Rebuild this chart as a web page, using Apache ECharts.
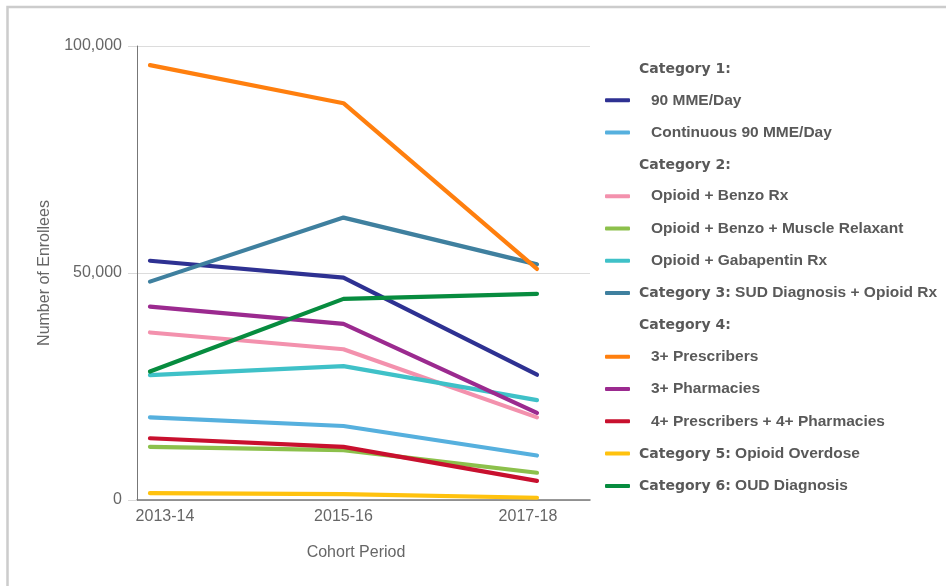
<!DOCTYPE html>
<html>
<head>
<meta charset="utf-8">
<script src="https://cdn.jsdelivr.net/npm/echarts@6/dist/echarts.min.js"></script>
<style>
html,body{margin:0;padding:0;background:#fff;}
#chart{width:946px;height:586px;}
</style>
</head>
<body>
<div id="chart"></div>
<script>
// ---- Data ----
const categories = ['2013-14', '2015-16', '2017-18'];
const yTicks = [0, 50000, 100000];

const mme90 = [52700, 49000, 27600];
const contMme90 = [18200, 16300, 9800];
const opioidBenzo = [36900, 33200, 18200];
const opioidBenzoMuscle = [11700, 11000, 6000];
const opioidGaba = [27500, 29500, 22000];
const sudOpioid = [48100, 62200, 51900];
const prescribers3 = [95800, 87400, 50900];
const pharmacies3 = [42600, 38800, 19200];
const presc4Pharm4 = [13600, 11700, 4200];
const overdose = [1500, 1300, 500];
const oudDiag = [28300, 44300, 45400];

const headerNames = ['Category 1:', 'Category 2:', 'Category 4:'];
const legendOrder = [
  'Category 1:', '90 MME/Day', 'Continuous 90 MME/Day',
  'Category 2:', 'Opioid + Benzo Rx', 'Opioid + Benzo + Muscle Relaxant', 'Opioid + Gabapentin Rx',
  'Category 3: SUD Diagnosis + Opioid Rx',
  'Category 4:', '3+ Prescribers', '3+ Pharmacies', '4+ Prescribers + 4+ Pharmacies',
  'Category 5: Opioid Overdose', 'Category 6: OUD Diagnosis'
];

const seriesDefs = [
  {name: '90 MME/Day', values: mme90, color: '#2e3192'},
  {name: 'Continuous 90 MME/Day', values: contMme90, color: '#56b0de'},
  {name: 'Opioid + Benzo Rx', values: opioidBenzo, color: '#f391ad'},
  {name: 'Opioid + Benzo + Muscle Relaxant', values: opioidBenzoMuscle, color: '#8cc04b'},
  {name: 'Opioid + Gabapentin Rx', values: opioidGaba, color: '#3fc1c8'},
  {name: 'Category 3: SUD Diagnosis + Opioid Rx', values: sudOpioid, color: '#3f809f'},
  {name: '3+ Prescribers', values: prescribers3, color: '#ff7f0e'},
  {name: '3+ Pharmacies', values: pharmacies3, color: '#9b2a8f'},
  {name: '4+ Prescribers + 4+ Pharmacies', values: presc4Pharm4, color: '#c8102e'},
  {name: 'Category 5: Opioid Overdose', values: overdose, color: '#ffc20e'},
  {name: 'Category 6: OUD Diagnosis', values: oudDiag, color: '#078c3f'}
];

// ---- Chart ----
const chart = echarts.init(document.getElementById('chart'), null, {renderer: 'canvas'});

const series = seriesDefs.map(s => ({
  name: s.name,
  type: 'line',
  data: s.values.map((v, i) => [i, v]),
  showSymbol: false,
  symbol: 'none',
  color: s.color,
  lineStyle: {width: 4.2, color: s.color, cap: 'round', join: 'round'},
  emphasis: {disabled: true},
  z: 3
}));
headerNames.forEach(h => series.push({name: h, type: 'line', data: [], showSymbol: false}));

const textColor = '#595959';
const itemFont = 'Liberation Sans, Arial, sans-serif';
const headFont = 'DejaVu Sans, sans-serif';

const option = {
  animation: false,
  backgroundColor: '#fff',
  graphic: [{
    type: 'rect',
    shape: {x: 7.5, y: 7, width: 1200, height: 800},
    style: {fill: 'none', stroke: '#cccccc', lineWidth: 2.5},
    silent: true
  }],
  grid: {left: 137, top: 46, right: 356, bottom: 86, containLabel: false},
  legend: {
    orient: 'vertical',
    left: 600,
    top: 56,
    itemWidth: 25,
    itemHeight: 4,
    itemGap: 16.3,
    icon: 'roundRect',
    selectedMode: false,
    data: legendOrder.map(n => headerNames.includes(n) ? {name: n, icon: 'none'} : {name: n}),
    formatter: function (name) {
      if (headerNames.includes(name)) return '{h|' + name + '}';
      const m = name.match(/^(Category \d+:)\s(.*)$/);
      if (m) return '{h|' + m[1] + '}{n| ' + m[2] + '}';
      return '{i|' + name + '}';
    },
    textStyle: {
      color: textColor,
      rich: {
        h: {fontFamily: headFont, fontWeight: 'bold', fontSize: 14, color: textColor, lineHeight: 18, padding: [1, 0, 0, 4]},
        n: {fontFamily: itemFont, fontWeight: 'bold', fontSize: 15.5, color: textColor, lineHeight: 18},
        i: {fontFamily: itemFont, fontWeight: 'bold', fontSize: 15.5, color: textColor, lineHeight: 18, padding: [0, 0, 0, 16]}
      }
    }
  },
  xAxis: {
    type: 'value',
    min: -0.067,
    max: 2.274,
    name: 'Cohort Period',
    nameLocation: 'middle',
    nameGap: 45,
    nameTextStyle: {fontFamily: itemFont, fontSize: 16, color: '#666', padding: [0, 15, 0, 0]},
    axisLine: {show: true, onZero: false, lineStyle: {color: '#777', width: 1.5}},
    axisTick: {show: false},
    splitLine: {show: false},
    axisLabel: {
      customValues: categories.map((c, i) => i),
      margin: 9,
      fontFamily: itemFont,
      fontSize: 16,
      color: '#666',
      formatter: function (v) {
        const idx = Math.round(v);
        return '{c' + idx + '|' + categories[idx] + '}';
      },
      rich: {
        c0: {fontFamily: itemFont, fontSize: 16, color: '#666', padding: [0, 0, 0, 30]},
        c1: {fontFamily: itemFont, fontSize: 16, color: '#666', padding: [0, 0, 0, 0]},
        c2: {fontFamily: itemFont, fontSize: 16, color: '#666', padding: [0, 18, 0, 0]}
      }
    }
  },
  yAxis: {
    type: 'value',
    min: yTicks[0],
    max: yTicks[yTicks.length - 1],
    interval: yTicks[1] - yTicks[0],
    name: 'Number of Enrollees',
    nameLocation: 'middle',
    nameGap: 84,
    nameTextStyle: {fontFamily: itemFont, fontSize: 16, color: '#666'},
    axisLine: {show: true, onZero: false, lineStyle: {color: '#777', width: 1}},
    axisTick: {show: true, length: 9, lineStyle: {color: '#d9d9d9', width: 1}},
    splitLine: {show: true, lineStyle: {color: '#dcdcdc', width: 1}},
    axisLabel: {
      margin: 15,
      fontFamily: itemFont,
      fontSize: 16,
      color: '#666',
      formatter: v => v.toLocaleString('en-US')
    }
  },
  series: series
};

chart.setOption(option);
</script>
</body>
</html>
